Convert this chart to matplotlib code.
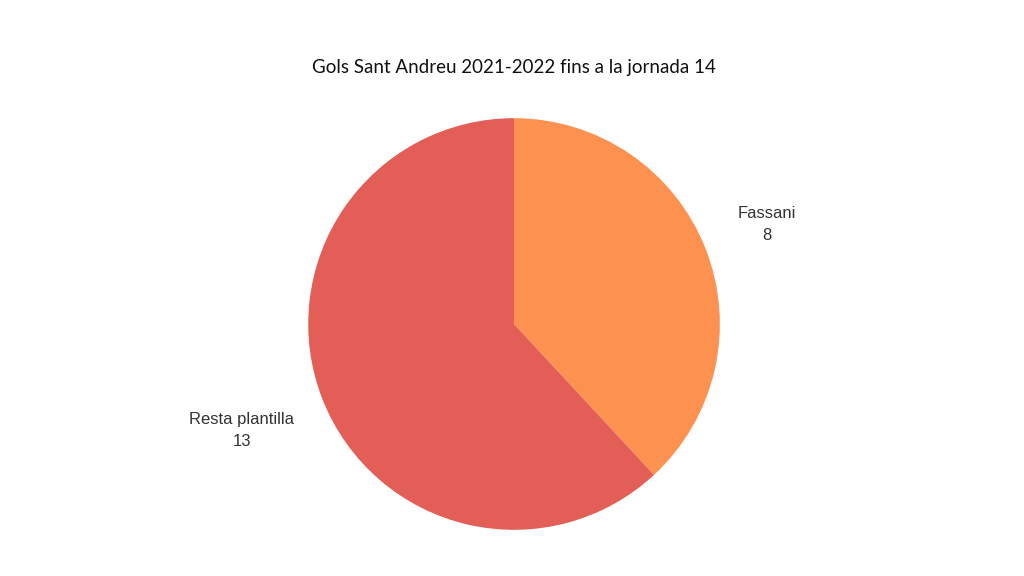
import matplotlib.pyplot as plt
import numpy as np

labels = ["Fassani", "Resta plantilla"]
values = [8, 13]
colors = ["#FD9250", "#E35E57"]
title = "Gols Sant Andreu 2021-2022 fins a la jornada 14"

fig = plt.figure(figsize=(10.24, 5.76), dpi=100)
ax = fig.add_axes([0.301, 0.08, 0.402, 0.715])
wedges, _ = ax.pie(values, colors=colors, startangle=90, counterclock=False,
                   wedgeprops=dict(linewidth=0))
ax.set_xlim(-1, 1)
ax.set_ylim(-1, 1)
ax.set_aspect("equal")

dists = [1.32, 1.42]
for w, lab, v, d in zip(wedges, labels, values, dists):
    ang = np.deg2rad((w.theta1 + w.theta2) / 2)
    ax.text(d * np.cos(ang), d * np.sin(ang), f"{lab}\n{v}", ha="center", va="center",
            fontsize=12, color="#333333", family="Liberation Sans", linespacing=1.6,
            clip_on=False)

fig.text(0.502, 0.882, title, ha="center", va="center", fontsize=13.5,
         family="Lato", color="#111111")
fig.savefig("out.png", dpi=100)
